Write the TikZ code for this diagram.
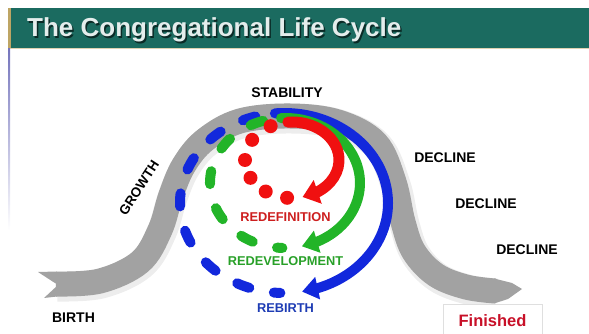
\documentclass[tikz,border=0pt]{standalone}
\usepackage{fontspec}
\setmainfont{Liberation Sans}
\usetikzlibrary{arrows.meta,bending}

\definecolor{barteal}{RGB}{27,107,96}
\definecolor{bartan}{RGB}{190,165,100}
\definecolor{bandgray}{RGB}{162,162,162}
\definecolor{ringred}{RGB}{240,16,16}
\definecolor{ringgreen}{RGB}{34,180,40}
\definecolor{ringblue}{RGB}{18,40,220}
\definecolor{labred}{RGB}{205,30,30}
\definecolor{labgreen}{RGB}{40,160,40}
\definecolor{labblue}{RGB}{30,60,180}
\definecolor{finred}{RGB}{200,16,40}

\begin{document}
\begin{tikzpicture}[x=1pt,y=-1pt,
  stagelabel/.style={font=\fontsize{14}{14}\selectfont\bfseries, inner sep=0pt},
  ringlabel/.style={font=\fontsize{12.8}{13}\selectfont\bfseries, inner sep=0pt},
  solidring/.style={line width=#1, line cap=round},
  dashring/.style={line width=10pt, line cap=round, dash pattern=on 13pt off 25pt}]
  \useasboundingbox (0,0) rectangle (589,334);
  % title bar
  \fill[barteal] (8,8) rectangle (589,48);
  \fill[bartan] (8,8) rectangle (11,48);
  \draw[bartan!50, line width=1pt] (8,48.5) -- (589,48.5);
  \shade[top color=blue!35!gray!80, bottom color=white] (8,49) rectangle (10,230);
  \node[anchor=base west, inner sep=0pt, font=\fontsize{26}{26}\selectfont\bfseries,
    text=black, opacity=.6] (titleshadow) at (28.5,38.5) {The Congregational Life Cycle};
  \node[anchor=base west, inner sep=0pt, font=\fontsize{26}{26}\selectfont\bfseries,
    text=white!88!barteal] (title) at (27,37) {The Congregational Life Cycle};
  % the bell
  \draw[black, opacity=.07, line width=30pt, shift={(1.5,2.5)}] plot[smooth, tension=.6]
    coordinates {(56,284) (100,281) (140,262) (160,230) (171,195) (184,165) (205,140) (240,121)
      (290,116) (338,122) (376,143) (394,182) (403,222) (414,252) (436,275) (466,287) (495,291)};
  \draw[bandgray, line width=25pt] plot[smooth, tension=.6]
    coordinates {(56,284) (100,281) (140,262) (160,230) (171,195) (184,165) (205,140) (240,121)
      (290,116) (338,122) (376,143) (394,182) (403,222) (414,252) (436,275) (466,287) (495,291)};
  \fill[bandgray] (38,272) -- (57,271.5) -- (57,296.5) -- (44,298) -- (58,285) -- cycle;
  \fill[bandgray] (494,278.5) -- (512,283) -- (522,289) -- (508,299) -- (494,303.5) -- cycle;
  % rebirth
  \draw[ringblue, dashring, shift={(284,203)}] (-106:104 and 90)
    arc[start angle=-106, end angle=-268, x radius=104, y radius=90];
  \draw[ringblue, solidring=10pt, -{Triangle[length=16pt,width=22pt,flex]}, shift={(284,203)}]
    (-95:104 and 90) arc[start angle=-95, end angle=80, x radius=104, y radius=90];
  % redevelopment
  \draw[ringgreen, dashring, shift={(285,183)}] (-107:75 and 65)
    arc[start angle=-107, end angle=-268, x radius=75, y radius=65];
  \draw[ringgreen, solidring=10pt, -{Triangle[length=16pt,width=22pt,flex]}, shift={(285,183)}]
    (-93:75 and 65) arc[start angle=-93, end angle=77, x radius=75, y radius=65];
  % redefinition
  \foreach \a in {-117,-148,-180,-208,-236,-264}
    \fill[ringred, shift={(292,160)}] (\a:47 and 38) circle[radius=7];
  \draw[ringred, solidring=11pt, -{Triangle[length=16pt,width=24pt,flex]}, shift={(292,160)}]
    (-95:47 and 38) arc[start angle=-95, end angle=77, x radius=47, y radius=38];
  % labels
  \node[stagelabel] (stability) at (287,93) {STABILITY};
  \node[stagelabel, font=\fontsize{13.5}{14}\selectfont\bfseries, rotate=57] (growth) at (139,188) {GROWTH};
  \node[stagelabel] (birth) at (73.5,318) {BIRTH};
  \node[stagelabel] (decline1) at (445,158) {DECLINE};
  \node[stagelabel] (decline2) at (486,204) {DECLINE};
  \node[stagelabel] (decline3) at (527,250) {DECLINE};
  \node[ringlabel, text=labred] (redef) at (285.5,217) {REDEFINITION};
  \node[ringlabel, text=labgreen] (redev) at (285.5,261) {REDEVELOPMENT};
  \node[ringlabel, text=labblue] (rebirth) at (285.5,308) {REBIRTH};
  \node[draw=gray!25, fill=white, minimum width=99pt, minimum height=34pt, text=finred,
    font=\fontsize{16.5}{17}\selectfont\bfseries] (finished) at (492.5,321) {Finished};
\end{tikzpicture}
\end{document}
